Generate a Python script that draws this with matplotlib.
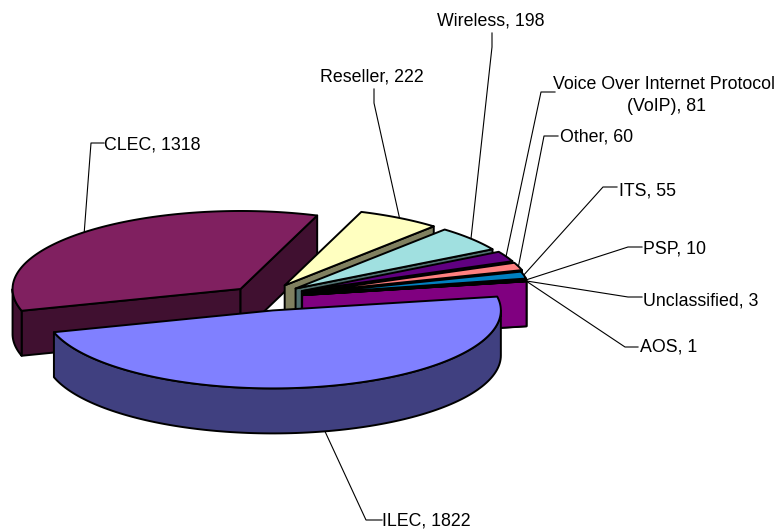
import numpy as np
import matplotlib
matplotlib.use("Agg")
import matplotlib.pyplot as plt
from matplotlib.patches import Polygon
from matplotlib.colors import to_rgb

names = ["ILEC", "CLEC", "Reseller", "Wireless", "VoIP", "Other", "ITS", "PSP", "Unclassified", "AOS"]
values = [1822, 1318, 222, 198, 81, 60, 55, 10, 3, 1]
colors = ["#8080FF", "#802060", "#FFFFC0", "#A0E0E0", "#600080", "#FF8080", "#0080C0", "#C0C0FF", "#000080", "#FF00FF"]
explode = [0.17, 0.15, 0.18, 0.18, 0.185, 0.185, 0.175, 0.17, 0.17, 0.17]

# label text, pixel position of text (left, centre y), leader elbow points
labels = {
    "ILEC": [("ILEC, 1822", 382, 520.5)],
    "CLEC": [("CLEC, 1318", 104, 145.5)],
    "Reseller": [("Reseller, 222", 320, 77.5)],
    "Wireless": [("Wireless, 198", 437, 20.5)],
    "VoIP": [("Voice Over Internet Protocol", 553, 84.5), ("(VoIP), 81", 627, 106.5)],
    "Other": [("Other, 60", 560, 136.5)],
    "ITS": [("ITS, 55", 619, 191.5)],
    "PSP": [("PSP, 10", 643, 249.5)],
    "Unclassified": [("Unclassified, 3", 643, 300.5)],
    "AOS": [("AOS, 1", 640, 347.5)],
}
elbows = {
    "ILEC": [(382, 520), (366, 520)],
    "CLEC": [(104, 143), (91, 143)],
    "Reseller": [(374, 89), (374, 103)],
    "Wireless": [(492, 33), (492, 47)],
    "VoIP": [(555, 92), (541, 92)],
    "Other": [(558, 136), (544, 136)],
    "ITS": [(617, 187), (603, 187)],
    "PSP": [(642, 247), (628, 247)],
    "Unclassified": [(642, 297), (628, 297)],
    "AOS": [(638, 347), (625, 347)],
}

cx, cy = 264, 297.5
rx, ry = 228, 78
depth = 45
start = 10.2


def point(ang):
    return rx * np.cos(np.radians(ang)), -ry * np.sin(np.radians(ang))


def half(c):
    return tuple(v / 2 for v in to_rgb(c))


def draw_slice(ax, apex, a0, a1, color):
    # a0 > a1, going clockwise
    ang = np.linspace(a0, a1, 120)
    xs = apex[0] + rx * np.cos(np.radians(ang))
    ys = apex[1] - ry * np.sin(np.radians(ang))
    wall = half(color)
    mid = (a0 + a1) / 2
    mx, my = point(mid)
    for edge in (a0, a1):
        ex, ey = point(edge)
        if my < ey / ex * mx:
            pts = [apex, (apex[0] + ex, apex[1] + ey), (apex[0] + ex, apex[1] + ey + depth), (apex[0], apex[1] + depth)]
            ax.add_patch(Polygon(pts, closed=True, fc=wall, ec="black", lw=1.4, joinstyle="round"))
    lo, hi = max(a1, -180), min(a0, 0)
    if hi > lo:
        arc = np.linspace(hi, lo, 120)
        ax_ = apex[0] + rx * np.cos(np.radians(arc))
        ay_ = apex[1] - ry * np.sin(np.radians(arc))
        pts = list(zip(ax_, ay_)) + list(zip(ax_[::-1], ay_[::-1] + depth))
        ax.add_patch(Polygon(pts, closed=True, fc=wall, ec="black", lw=1.4, joinstyle="round"))
    pts = [apex] + list(zip(xs, ys))
    ax.add_patch(Polygon(pts, closed=True, fc=color, ec="black", lw=1.4, joinstyle="round"))


fig = plt.figure(figsize=(7.81, 5.32), dpi=100)
ax = fig.add_axes([0, 0, 1, 1])
ax.set_xlim(0, 781)
ax.set_ylim(532, 0)
ax.axis("off")

total = float(sum(values))
spans = [v / total * 360 for v in values]
slices = {}
a = start
for name, span, e in zip(names, spans, explode):
    a0, a1 = a, a - span
    mid = (a0 + a1) / 2
    ox, oy = point(mid)
    slices[name] = ((cx + e * ox, cy + e * oy), a0, a1, mid)
    a = a1

# leader lines go first, the pie sits on top of their ends
for name in names:
    apex, a0, a1, mid = slices[name]
    ox, oy = point(mid)
    end_y = apex[1] + oy
    if np.sin(np.radians(mid)) < 0:
        end_y += depth
    pts = elbows[name] + [(apex[0] + ox, end_y)]
    ax.plot([p[0] for p in pts], [p[1] for p in pts], color="black", lw=0.8, zorder=1)

# back to front
order = ["CLEC", "Reseller", "Wireless", "VoIP", "Other", "ITS", "PSP", "Unclassified", "AOS", "ILEC"]
for name in order:
    apex, a0, a1, mid = slices[name]
    draw_slice(ax, apex, a0, a1, colors[names.index(name)])

for name in names:
    for txt, x, y in labels[name]:
        ax.text(x, y, txt, family="Liberation Sans", fontsize=12.8, color="black", ha="left", va="center", zorder=5)

fig.savefig("out.png", dpi=100)
